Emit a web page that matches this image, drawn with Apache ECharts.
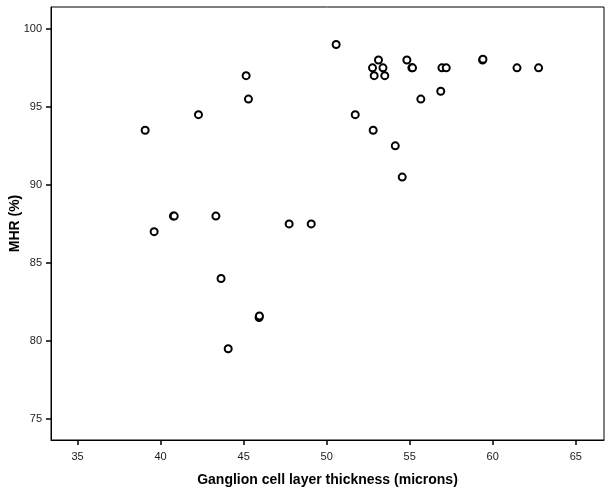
<!DOCTYPE html>
<html>
<head>
<meta charset="utf-8">
<script src="https://cdn.jsdelivr.net/npm/echarts@6/dist/echarts.min.js"></script>
<style>html,body{margin:0;padding:0;background:#fff}#c{width:612px;height:492px}</style>
</head>
<body>
<div id="c"></div>
<script>
var gclThickness = [39.07, 39.61, 40.77, 40.82, 42.28, 43.33, 43.64, 44.07, 45.15, 45.29, 45.93, 45.95,
  47.74, 49.07, 50.57, 51.72, 52.76, 52.86, 52.8, 53.12, 53.39, 53.5, 54.13, 54.55, 54.83, 55.13, 55.17,
  55.67, 56.87, 56.94, 57.2, 59.39, 59.41, 61.46, 62.76];
var mhrPercent = [93.5, 87, 88, 88, 94.5, 88, 84, 79.5, 97, 95.5, 81.5, 81.6,
  87.5, 87.5, 99, 94.5, 97.5, 97, 93.5, 98, 97.5, 97, 92.5, 90.5, 98, 97.5, 97.5,
  95.5, 96, 97.5, 97.5, 98, 98.05, 97.5, 97.5];
var xTicks = [35, 40, 45, 50, 55, 60, 65];
var yTicks = [75, 80, 85, 90, 95, 100];

var points = gclThickness.map(function (x, i) { return [x, mhrPercent[i]]; });
var chart = echarts.init(document.getElementById('c'), null, {renderer: 'canvas'});
var labelFont = {fontFamily: 'Liberation Sans, Arial, sans-serif', fontSize: 11, color: '#1a1a1a'};
chart.setOption({
  animation: false,
  backgroundColor: '#fff',
  grid: {left: 51, top: 7, right: 8, bottom: 52, containLabel: false, outerBoundsMode: 'none',
    show: true, borderColor: '#000', borderWidth: 1, backgroundColor: 'transparent'},
  xAxis: {
    type: 'value', min: 33.4, max: 66.7,
    name: 'Ganglion cell layer thickness (microns)', nameLocation: 'middle', nameGap: 33, nameMoveOverlap: false,
    nameTextStyle: {fontFamily: 'Liberation Sans, Arial, sans-serif', fontSize: 14, fontWeight: 'bold', color: '#000'},
    axisLine: {show: true, onZero: false, lineStyle: {color: '#000', width: 1}},
    axisTick: {show: true, length: 5, inside: false, customValues: xTicks, lineStyle: {color: '#000', width: 1.5}},
    axisLabel: Object.assign({customValues: xTicks, margin: 11}, labelFont),
    splitLine: {show: false}
  },
  yAxis: {
    type: 'value', min: 73.65, max: 101.4,
    name: 'MHR (%)', nameLocation: 'middle', nameGap: 29, nameRotate: 90, nameMoveOverlap: false,
    nameTextStyle: {fontFamily: 'Liberation Sans, Arial, sans-serif', fontSize: 14, fontWeight: 'bold', color: '#000'},
    axisLine: {show: true, onZero: false, lineStyle: {color: '#000', width: 1}},
    axisTick: {show: true, length: 5, inside: false, customValues: yTicks, lineStyle: {color: '#000', width: 1.5}},
    axisLabel: Object.assign({customValues: yTicks, margin: 9}, labelFont),
    splitLine: {show: false}
  },
  series: [{
    type: 'scatter',
    data: points,
    symbol: 'circle',
    symbolSize: 7,
    itemStyle: {color: '#fff', borderColor: '#000', borderWidth: 2, opacity: 1}
  }]
});
</script>
</body>
</html>
